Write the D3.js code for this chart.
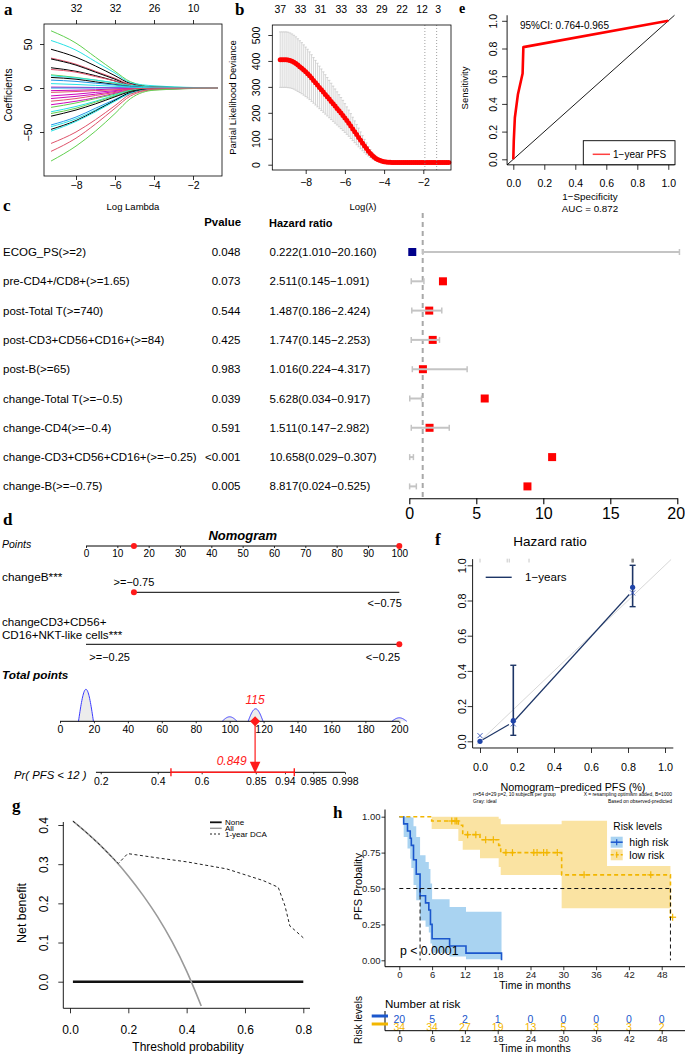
<!DOCTYPE html>
<html>
<head>
<meta charset="utf-8">
<script src="https://cdn.jsdelivr.net/npm/d3@7/dist/d3.min.js"></script>
<style>
html,body{margin:0;padding:0;background:#fff;}
svg{display:block;}
</style>
</head>
<body>
<svg id="chart" width="685" height="1054" xmlns="http://www.w3.org/2000/svg"></svg>
<script>
// ======================= DATA =======================
// (a) LASSO coefficient paths (value at each log-lambda knot)
const aLambda = [-9.28, -8, -7, -6, -5.2, -4, -0.72];
const aCoefPaths = [
  [65, 51, 35, 19, 7, 1.5, 0],
  [54, 43, 30, 17, 6, 2.5, 0],
  [44, 35, 25, 14, 5, 1, 0],
  [34, 27, 19, 11, 4, 0.8, 0],
  [33, 26, 18, 10, 3, 0.6, 0],
  [23, 19, 14, 8, 2.5, 0.5, 0],
  [21, 18, 13, 8, 3, 0.6, 0],
  [15, 12, 9, 5.5, 2, 0.4, 0],
  [14, 11.5, 9, 6, 3, 1, 0],
  [12, 10, 7, 4, 1.5, 0.3, 0],
  [9, 7.5, 5.5, 3.5, 1.5, 0.4, 0],
  [1, 0.8, 0.6, 0.4, 0.2, 0, 0],
  [0, 0, 0, 0, 0, 0, 0],
  [-3, -2.5, -2, -1, -0.5, 0, 0],
  [-9, -7, -5, -3, -1, -0.2, 0],
  [-12, -9.5, -7, -4, -1.5, -0.3, 0],
  [-15, -12, -8.5, -5, -2, -0.4, 0],
  [-19, -15, -11, -6, -2.5, -0.5, 0],
  [-22, -17, -12, -7, -2.5, -0.5, 0],
  [-27, -21, -15, -8, -3, -0.6, 0],
  [-29, -23, -16, -9, -3.5, -0.7, 0],
  [-32, -25, -18, -10, -4, -0.8, 0],
  [-42, -33, -23, -13, -5, -1, 0],
  [-44, -35, -25, -14, -6, -1.5, 0],
  [-47, -37, -26, -14, -5, -1, 0],
  [-49, -38, -27, -15, -6, -1.5, 0],
  [-63, -50, -36, -20, -7, -1.5, 0],
  [-72, -57, -41, -23, -9, -2, 0],
  [-83, -66, -49, -29, -12, -2.5, 0],
  [5, 4, 3, 2, 1, 0.3, 0],
  [-5, -4, -3, -2, -1, -0.3, 0]
];
const aPathColors = ["#61D04F","#28E2E5","#000000","#DF536B","#000000","#000000","#DF536B","#61D04F","#28E2E5","#000000","#2297E6","#CD0BBC","#2297E6","#CD0BBC","#CD0BBC","#CD0BBC","#DF536B","#CD0BBC","#61D04F","#28E2E5","#61D04F","#000000","#2297E6","#28E2E5","#000000","#28E2E5","#DF536B","#DF536B","#61D04F","#28E2E5","#DF536B"];
const aXTicks = [-8, -6, -4, -2];
const aYTicks = [-50, 0, 50];
const aTopLabels = ["32", "32", "26", "10"];

// (b) cross-validated partial likelihood deviance
const bLambda = [-9.3,-9.2,-9.1,-9.0,-8.9,-8.8,-8.7,-8.6,-8.5,-8.4,-8.3,-8.2,-8.1,-8.0,-7.9,-7.8,-7.7,-7.6,-7.5,-7.4,-7.3,-7.2,-7.1,-7.0,-6.9,-6.8,-6.7,-6.6,-6.5,-6.4,-6.3,-6.2,-6.1,-6.0,-5.9,-5.8,-5.7,-5.6,-5.5,-5.4,-5.3,-5.2,-5.1,-5.0,-4.9,-4.8,-4.7,-4.6,-4.5,-4.4,-4.3,-4.2,-4.1,-4.0,-3.9,-3.8,-3.7,-3.6,-3.5,-3.4,-3.3,-3.2,-3.1,-3.0,-2.9,-2.8,-2.7,-2.6,-2.5,-2.4,-2.3,-2.2,-2.1,-2.0,-1.9,-1.8,-1.7,-1.6,-1.5,-1.4,-1.3,-1.2,-1.1,-1.0,-0.9,-0.8,-0.7];
const bDeviance = [405,405,405,405,404,402,399,395,390,384,378,372,365,358,351,343,334,325,316,307,298,289,280,271,262,253,244,235,226,217,208,199,190,180,170,160,149,138,127,116,105,94,83,72,62,52,43,35,29,23,19,16,13,11.5,10,9.5,9,8.7,8.5,8,8,8,8,8,8,8,8,8,8,8,8,8,8,8,8,8,8,8,8,8,8,8,8,8,8,8,8];
const bDevSE = [107,107,107,107,107,106,105,104,103,101.5,100,98.5,97,95.5,94,92,90,88,86,84,82,80,78,76,74,72,70,68,66,64,62,60,58,55.5,53,50.5,48,45,42,39,36,32.5,29,25.5,22,18.5,15,12.5,10,8,6,5,4,3.5,3,2.8,2.6,2.5,2.5,2.5,2.5,2.5,2.5,2.5,2.5,2.5,2.5,2.5,2.5,2.5,2.5,2.5,2.5,2.5,2.5,2.5,2.5,2.5,2.5,2.5,2.5,2.5,2.5,2.5,2.5,2.5,2.5];
const bXTicks = [-8, -6, -4, -2];
const bYTicks = [0, 100, 200, 300, 400, 500];
const bTopLambda = [-9.32, -8.29, -7.27, -6.21, -5.18, -4.14, -3.11, -2.09, -1.27];
const bTopLabels = ["37", "33", "31", "33", "33", "29", "22", "12", "3"];
const bVLines = [-1.92, -1.32];

// (e) ROC curve
const eFPR = [0, 0.003, 0.01, 0.03, 0.06, 0.065, 1];
const eTPR = [0, 0.13, 0.30, 0.47, 0.62, 0.81, 1];
const eTicks = [0, 0.2, 0.4, 0.6, 0.8, 1.0];

// (c) forest plot
const cVars = ["ECOG_PS(>=2)", "pre-CD4+/CD8+(>=1.65)", "post-Total T(>=740)", "post-CD3+CD56+CD16+(>=84)", "post-B(>=65)", "change-Total T(>=\u22120.5)", "change-CD4(>=\u22120.4)", "change-CD3+CD56+CD16+(>=\u22120.25)", "change-B(>=\u22120.75)"];
const cPvalues = ["0.048", "0.073", "0.544", "0.425", "0.983", "0.039", "0.591", "<0.001", "0.005"];
const cHR = [0.222, 2.511, 1.487, 1.747, 1.016, 5.628, 1.511, 10.658, 8.817];
const cLo = [1.010, 0.145, 0.186, 0.145, 0.224, 0.034, 0.147, 0.029, 0.024];
const cHi = [20.160, 1.091, 2.424, 2.253, 4.317, 0.917, 2.982, 0.307, 0.525];
const cTicks = [0, 5, 10, 15, 20];

// (d) nomogram
const dPointsTicks = [0, 10, 20, 30, 40, 50, 60, 70, 80, 90, 100];
const dChangeBPoints = [15.3, 100];
const dChangeBLabels = [">=\u22120.75", "<\u22120.75"];
const dCD3Points = [0, 100];
const dCD3Labels = [">=\u22120.25", "<\u22120.25"];
const dTotalTicks = [0, 20, 40, 60, 80, 100, 120, 140, 160, 180, 200];
const dTotalGroups = [15.3, 100, 115.3, 200];
const dTotalCounts = [32, 4.5, 12.5, 3.5];
const dTotalSelected = 115;
const dPrLabels = ["0.2", "0.4", "0.6", "0.85", "0.94", "0.985", "0.998"];
const dPrAtTotal = [24.0, 57.6, 83.5, 115.4, 132.6, 149.3, 168.0];
const dPrRange = [21.2, 168.0];
const dPrCI = [65.4, 138.1];
const dPrSelected = "0.849";

// (f) calibration
const fPred = [0.0, 0.18, 0.825];
const fObs = [0.0, 0.117, 0.875];
const fObsLo = [null, 0.034, 0.765];
const fObsHi = [null, 0.432, 1.0];
const fCorrected = [0.032, 0.099, 0.843];
const fLineObs = [0.0, 0.11, 0.855];
const fRug = [0.0, 0.147, 0.158, 0.265, 0.822, 0.828];
const fRugDark = [false, false, false, false, true, true];
const fTicks = [0, 0.2, 0.4, 0.6, 0.8, 1.0];

// (g) decision curve
const gAllT = [0.01,0.05,0.1,0.15,0.2,0.25,0.3,0.35,0.4,0.45];
const gAllNB = [0.41,0.385,0.351,0.313,0.270,0.221,0.166,0.102,0.027,-0.062];
const gDcaT = [0.01,0.05,0.1,0.15,0.166,0.198,0.31,0.4,0.537,0.663,0.714,0.737,0.754,0.77,0.794,0.8];
const gDcaNB = [0.41,0.385,0.351,0.313,0.302,0.327,0.315,0.306,0.288,0.258,0.241,0.194,0.142,0.132,0.116,0.112];
const gNoneT = [0.01, 0.8];
const gXTicks = [0, 0.2, 0.4, 0.6, 0.8];
const gYTicks = [0, 0.1, 0.2, 0.3, 0.4];

// (h) Kaplan-Meier
const hHighTime  = [0, 0.8, 1.5, 2.0, 2.2, 2.6, 3.1, 3.8, 4.8, 5.4, 5.7, 6.0, 9.2, 12.2, 18.7];
const hHighSurv  = [1, 0.95, 0.90, 0.85, 0.80, 0.70, 0.60, 0.45, 0.40, 0.35, 0.25, 0.15, 0.10, 0.05, 0];
const hHighLower = [1, 0.859, 0.778, 0.707, 0.643, 0.525, 0.419, 0.277, 0.234, 0.193, 0.117, 0.053, 0.027, 0.0074, 0];
const hHighUpper = [1, 1, 1, 1, 0.995, 0.933, 0.859, 0.731, 0.684, 0.636, 0.534, 0.426, 0.372, 0.338, 0];
const hLowTime  = [0, 5.92, 10.8, 11.6, 14.76, 18.18, 18.55, 29.7, 38, 49.6];
const hLowSurv  = [1, 0.97, 0.94, 0.875, 0.84, 0.80, 0.75, 0.595, 0.595, 0.30];
const hLowLower = [1, 0.914, 0.83, 0.77, 0.71, 0.65, 0.594, 0.362, 0.362, 0.30];
const hLowUpper = [1, 1, 1, 1, 1, 0.985, 0.947, 0.972, 0.657, 0.30];
const hLowEnd = 50.0;
const hLowCensor = [9.6, 10.2, 10.5, 12.5, 14.0, 15.8, 17.2, 19.5, 20.7, 24.6, 25.2, 26.4, 27.0, 28.9, 33.8, 46.0, 50.0];
const hMedians = [3.8, 49.6];
const hXTicks = [0, 6, 12, 18, 24, 30, 36, 42, 48];
const hYTicks = [0, 0.25, 0.5, 0.75, 1.0];
const hRiskHigh = [20, 5, 2, 1, 0, 0, 0, 0, 0];
const hRiskLow = [34, 34, 27, 19, 13, 5, 3, 3, 2];

// ======================= HELPERS =======================
const SANS = '"Liberation Sans", Arial, Helvetica, sans-serif';
const SERIF = '"Liberation Serif", "Times New Roman", Times, serif';
const svg = d3.select("#chart");
svg.append("rect").attr("width", 685).attr("height", 1054).attr("fill", "#fff");

function T(x, y, s, o = {}) {
  const t = svg.append("text").attr("x", x).attr("y", y).text(s)
    .attr("font-size", o.size || 10.5).attr("fill", o.fill || "#000")
    .attr("text-anchor", o.anchor || "start").attr("font-family", o.family || SANS);
  if (o.weight) t.attr("font-weight", o.weight);
  if (o.style) t.attr("font-style", o.style);
  if (o.rot) t.attr("transform", `rotate(-90,${x},${y})`);
  return t;
}
function L(x1, y1, x2, y2, o = {}) {
  const l = svg.append("line").attr("x1", x1).attr("y1", y1).attr("x2", x2).attr("y2", y2)
    .attr("stroke", o.stroke || "#000").attr("stroke-width", o.w || 1);
  if (o.dash) l.attr("stroke-dasharray", o.dash);
  return l;
}
function RT(cx, cy, s, o = {}) {
  const sz = o.size || 10.5;
  return T(cx + sz * 0.36, cy, s, Object.assign({ anchor: "middle", rot: true }, o));
}
function axis(kind, scale, vals, tx, ty, o = {}) {
  const gen = kind === "bottom" ? d3.axisBottom : kind === "top" ? d3.axisTop : d3.axisLeft;
  const ax = gen(scale).tickValues(vals).tickSize(o.tick ?? 5).tickSizeOuter(0).tickPadding(o.pad ?? 3);
  if (o.fmt) ax.tickFormat(o.fmt);
  const g = svg.append("g").attr("transform", `translate(${tx},${ty})`).call(ax);
  if (!o.domain) g.select(".domain").remove();
  else g.select(".domain").attr("stroke", "#000").attr("stroke-width", o.dw || 1);
  g.selectAll(".tick line").attr("stroke", o.tc || "#000").attr("stroke-width", o.tw || 0.8);
  g.selectAll("text").attr("font-size", o.size || 10.5).attr("font-family", SANS).attr("fill", o.fill || "#000");
  if (kind === "left" && o.rot !== undefined) {
    g.selectAll("text").attr("transform", "rotate(-90)").attr("x", 0).attr("y", -o.rot)
      .attr("dy", 0).attr("text-anchor", "middle");
  }
  return g;
}
function panelLabel(x, y, s, sz) { T(x, y, s, { size: sz || 17, weight: "bold", family: SERIF }); }

// ======================= (a) =======================
{
  const x = d3.scaleLinear().domain([-8, -2]).range([76, 193]);
  const y = d3.scaleLinear().domain([-50, 50]).range([132, 44]);
  const line = d3.line().x((d, i) => x(aLambda[i])).y(d => y(d)).curve(d3.curveMonotoneX);
  svg.append("g").selectAll("path").data(aCoefPaths).join("path")
    .attr("d", line).attr("fill", "none").attr("stroke", (d, i) => aPathColors[i]).attr("stroke-width", 1);
  svg.append("rect").attr("x", 44).attr("y", 24).attr("width", 178).attr("height", 152)
    .attr("fill", "none").attr("stroke", "#000").attr("stroke-width", 0.8);
  axis("bottom", x, aXTicks, 0, 176, { tick: 4, pad: 1.3, fmt: d => String(d).replace("-", "\u2212") });
  axis("top", x, aXTicks, 0, 24, { tick: 4, pad: 8.3, fmt: (d, i) => aTopLabels[i] });
  axis("left", y, aYTicks, 44, 0, { tick: 4, rot: 12, fmt: d => String(d).replace("-", "\u2212") });
  RT(8, 95, "Coefficients", { size: 10.2 });
  T(133, 210, "Log Lambda", { size: 9.5, anchor: "middle" });
  panelLabel(4, 15, "a");
}

// ======================= (b) =======================
{
  const x = d3.scaleLinear().domain([-8, -2]).range([305.7, 423.3]);
  const y = d3.scaleLinear().domain([0, 500]).range([164.7, 35]);
  const g = svg.append("g");
  const pts = bLambda.map((l, i) => ({ l, m: bDeviance[i], s: bDevSE[i] }));
  const GR = "#c4c4c4";
  g.selectAll(".eb").data(pts).join("line").attr("class", "eb")
    .attr("x1", d => x(d.l)).attr("x2", d => x(d.l))
    .attr("y1", d => y(d.m + d.s)).attr("y2", d => y(d.m - d.s))
    .attr("stroke", GR).attr("stroke-width", 0.7);
  g.selectAll(".cu").data(pts).join("line").attr("class", "cu")
    .attr("x1", d => x(d.l) - 1.2).attr("x2", d => x(d.l) + 1.2)
    .attr("y1", d => y(d.m + d.s)).attr("y2", d => y(d.m + d.s))
    .attr("stroke", GR).attr("stroke-width", 0.7);
  g.selectAll(".cl").data(pts).join("line").attr("class", "cl")
    .attr("x1", d => x(d.l) - 1.2).attr("x2", d => x(d.l) + 1.2)
    .attr("y1", d => y(d.m - d.s)).attr("y2", d => y(d.m - d.s))
    .attr("stroke", GR).attr("stroke-width", 0.7);
  bVLines.forEach(v => L(x(v), 25, x(v), 170, { stroke: "#888", w: 0.8, dash: "1,2" }));
  g.selectAll("circle").data(pts).join("circle")
    .attr("cx", d => x(d.l)).attr("cy", d => y(d.m)).attr("r", 2.5).attr("fill", "#ff0000");
  svg.append("rect").attr("x", 272.3).attr("y", 25).attr("width", 178.7).attr("height", 145)
    .attr("fill", "none").attr("stroke", "#000").attr("stroke-width", 0.8);
  axis("bottom", x, bXTicks, 0, 170, { tick: 4, pad: 5, fmt: d => String(d).replace("-", "\u2212") });
  axis("top", x, bTopLambda, 0, 25, { tick: 0, pad: 12.5, fmt: (d, i) => bTopLabels[i] });
  axis("left", y, bYTicks, 272.3, 0, { tick: 4, rot: 12 });
  RT(232.7, 97.5, "Partial Likelihood Deviance", { size: 9.5 });
  T(363, 210, "Log(\u03bb)", { size: 9.5, anchor: "middle" });
  panelLabel(235, 15, "b");
}

// ======================= (e) =======================
{
  const x = d3.scaleLinear().domain([0, 1]).range([513.3, 668.3]);
  const y = d3.scaleLinear().domain([0, 1]).range([159.3, 20.8]);
  svg.append("path").attr("d", `M${x(-0.04)},${y(1.04)}V${y(-0.04)}H${x(1.04)}`)
    .attr("fill", "none").attr("stroke", "#000").attr("stroke-width", 0.9);
  L(x(-0.04), y(-0.04), x(1.04), y(1.04), { w: 0.9 });
  const line = d3.line().x((d, i) => x(eFPR[i])).y(d => y(d));
  svg.append("path").attr("d", line(eTPR)).attr("fill", "none").attr("stroke", "#ff0000")
    .attr("stroke-width", 2.6).attr("stroke-linejoin", "round");
  axis("bottom", x, eTicks, 0, y(-0.04), { tick: 5, pad: 9.6, fmt: d3.format(".1f") });
  axis("left", y, eTicks, x(-0.04), 0, { tick: 5, rot: 10, fmt: d3.format(".1f") });
  T(520, 29, "95%CI: 0.764-0.965", { size: 10 });
  svg.append("rect").attr("x", 583.3).attr("y", 140.7).attr("width", 91.7).attr("height", 24)
    .attr("fill", "#fff").attr("stroke", "#000").attr("stroke-width", 0.9);
  L(592.7, 154.3, 610, 154.3, { stroke: "#ff4040", w: 1.5 });
  T(613, 158, "1\u2212year PFS", { size: 10 });
  RT(465, 88, "Sensitivity", { size: 9.5 });
  T(590, 199.8, "1\u2212Specificity", { size: 9.8, anchor: "middle" });
  T(590, 211.8, "AUC =  0.872", { size: 9.8, anchor: "middle" });
  panelLabel(459, 13, "e", 14);
}

// ======================= (c) =======================
{
  const x = d3.scaleLinear().domain([0, 20]).range([409.3, 677.3]);
  const y = d3.scalePoint().domain(cVars).range([252, 486.4]);
  T(241, 226, "Pvalue", { size: 11.4, weight: "bold", anchor: "end" });
  T(269, 227, "Hazard ratio", { size: 11, weight: "bold" });
  cVars.forEach((v, i) => {
    const yy = y(v);
    T(3, yy + 4, v, { size: 11.5 });
    T(240.5, yy + 4, cPvalues[i], { size: 11.5, anchor: "end" });
    T(269.5, yy + 4, `${cHR[i].toFixed(3)}(${cLo[i].toFixed(3)}\u2212${cHi[i].toFixed(3)})`, { size: 11.5 });
  });
  L(x(1), 213, x(1), 498, { stroke: "#a8a8a8", w: 2, dash: "5,4" });
  const g = svg.append("g");
  cVars.forEach((v, i) => {
    const yy = y(v);
    L(x(cLo[i]), yy, x(cHi[i]), yy, { stroke: "#c4c4c4", w: 2 });
    L(x(cLo[i]), yy - 3, x(cLo[i]), yy + 3, { stroke: "#c4c4c4", w: 1.5 });
    L(x(cHi[i]), yy - 3, x(cHi[i]), yy + 3, { stroke: "#c4c4c4", w: 1.5 });
  });
  g.selectAll("rect").data(cVars).join("rect")
    .attr("x", (d, i) => x(cHR[i]) - 4).attr("y", d => y(d) - 4)
    .attr("width", 8).attr("height", 8)
    .attr("fill", (d, i) => i === 0 ? "#00008b" : "#ff0000");
  const ax = axis("bottom", x, cTicks, 0, 498.3, { tick: 6, pad: 3, size: 16, domain: true, dw: 1.1, tw: 1.1 });
  ax.selectAll(".tick text").filter(d => d === 20).attr("text-anchor", "end").attr("x", 7.3);
  panelLabel(3, 211, "c");
}

// ======================= (d) =======================
{
  const xP = d3.scaleLinear().domain([0, 100]).range([86, 399.3]);
  const xT = d3.scaleLinear().domain([0, 200]).range([60, 399.3]);
  const RED = "#ff1a1a";
  panelLabel(3, 525, "d");
  T(242.7, 539.5, "Nomogram", { size: 13, weight: "bold", style: "italic", anchor: "middle" });
  T(2, 548, "Points", { size: 10.5, style: "italic" });
  L(xP(0), 546, xP(100), 546, { w: 1 });
  axis("bottom", xP, dPointsTicks, 0, 546, { tick: 2, pad: 2, size: 10 });
  dChangeBPoints.forEach(p => svg.append("circle").attr("cx", xP(p)).attr("cy", 546).attr("r", 3).attr("fill", RED));

  T(2, 580.7, "changeB***", { size: 11.8 });
  L(xP(dChangeBPoints[0]), 592.3, xP(dChangeBPoints[1]), 592.3, { w: 1 });
  svg.append("circle").attr("cx", xP(dChangeBPoints[0])).attr("cy", 592.3).attr("r", 3).attr("fill", RED);
  T(xP(dChangeBPoints[0]), 585.7, dChangeBLabels[0], { size: 11, anchor: "middle" });
  T(xP(dChangeBPoints[1]) + 2.5, 607.3, dChangeBLabels[1], { size: 11, anchor: "end" });

  T(2, 625.7, "changeCD3+CD56+", { size: 11.6 });
  T(2, 639, "CD16+NKT-like cells***", { size: 11.6 });
  L(xP(dCD3Points[0]), 644.3, xP(dCD3Points[1]), 644.3, { w: 1 });
  svg.append("circle").attr("cx", xP(dCD3Points[1])).attr("cy", 644.3).attr("r", 3).attr("fill", RED);
  T(xP(dCD3Points[0]) + 3.3, 660.7, dCD3Labels[0], { size: 11 });
  T(xP(dCD3Points[1]) + 0.8, 660.7, dCD3Labels[1], { size: 11, anchor: "end" });

  T(2, 679, "Total points", { size: 11.8, weight: "bold", style: "italic" });
  const base = 721.3;
  dTotalGroups.forEach((c, i) => {
    const w = 4.4, h = dTotalCounts[i];
    const us = d3.range(-1, 1.0001, 0.05);
    const pts = us.map(u => [xT(c + u * w), base - h * Math.cos(u * Math.PI / 2)]);
    svg.append("path").attr("d", d3.line()(pts) + "Z").attr("fill", "#ececec").attr("stroke", "none");
    svg.append("path").attr("d", d3.line()(pts)).attr("fill", "none").attr("stroke", "#3a3aff").attr("stroke-width", 1);
  });
  L(xT(0), base, xT(200), base, { w: 1 });
  axis("bottom", xT, dTotalTicks, 0, base, { tick: 2, pad: 2, size: 10.5 });
  const sx = xT(dTotalSelected);
  L(sx, base, sx, 762, { stroke: RED, w: 1.2 });
  svg.append("path").attr("d", `M${sx - 5.3},761.7L${sx + 5.3},761.7L${sx},773.3Z`).attr("fill", RED);
  svg.append("path").attr("d", `M${sx},${base - 5}L${sx + 5},${base}L${sx},${base + 5}L${sx - 5},${base}Z`).attr("fill", RED);
  T(sx, 704.3, String(dTotalSelected), { size: 12, fill: RED, style: "italic", anchor: "middle" });

  const py = 772.3;
  L(xT(dPrRange[0]), py, xT(dPrRange[1]), py, { w: 1 });
  axis("bottom", xT, dPrAtTotal, 0, py, { tick: 2, pad: 2.8, size: 10.5, fmt: (d, i) => dPrLabels[i] });
  L(xT(dPrCI[0]), py, xT(dPrCI[1]), py, { stroke: RED, w: 1.6 });
  dPrCI.forEach(v => L(xT(v), py - 4, xT(v), py + 4, { stroke: RED, w: 1.4 }));
  T(231.7, 765.3, dPrSelected, { size: 12, fill: RED, style: "italic", anchor: "middle" });
  T(14, 779, "Pr( PFS < 12 )", { size: 11.3, style: "italic" });
}

// ======================= (f) =======================
{
  const x = d3.scaleLinear().domain([0, 1]).range([480, 665]);
  const y = d3.scaleLinear().domain([0, 1]).range([741.3, 565.3]);
  const NAVY = "#1d3566", DOT = "#1f44a8";
  T(435, 545, "f", { size: 17, weight: "bold", family: SERIF });
  T(550, 545.5, "Hazard ratio", { size: 13.5, anchor: "middle" });
  svg.append("path").attr("d", `M${x(-0.04)},${y(1.035)}V${y(-0.038)}H${x(1.045)}`)
    .attr("fill", "none").attr("stroke", "#000").attr("stroke-width", 0.9);
  L(x(-0.02), y(-0.02), x(1.033), y(1.033), { stroke: "#d2d2d2", w: 0.9 });
  fRug.forEach((r, i) => L(x(r), 558.7, x(r), 562.5, { stroke: fRugDark[i] ? "#555" : "#c8c8c8", w: 1 }));
  for (let i = 0; i < fPred.length - 1; i++) {
    const x1 = x(fPred[i]), y1 = y(fLineObs[i]), x2 = x(fPred[i + 1]), y2 = y(fLineObs[i + 1]);
    const len = Math.hypot(x2 - x1, y2 - y1), g1 = 3, g2 = 5;
    L(x1 + (x2 - x1) * g1 / len, y1 + (y2 - y1) * g1 / len, x2 - (x2 - x1) * g2 / len, y2 - (y2 - y1) * g2 / len, { stroke: NAVY, w: 1.2 });
  }
  fPred.forEach((p, i) => {
    if (fObsLo[i] !== null) {
      L(x(p), y(fObsLo[i]), x(p), y(fObsHi[i]), { stroke: NAVY, w: 1.6 });
      L(x(p) - 3, y(fObsLo[i]), x(p) + 3, y(fObsLo[i]), { stroke: NAVY, w: 1.4 });
      L(x(p) - 3, y(fObsHi[i]), x(p) + 3, y(fObsHi[i]), { stroke: NAVY, w: 1.4 });
    }
    const cx = x(p), cy = y(fCorrected[i]);
    L(cx - 2.5, cy - 2.5, cx + 2.5, cy + 2.5, { stroke: "#2a4bb5", w: 0.9 });
    L(cx - 2.5, cy + 2.5, cx + 2.5, cy - 2.5, { stroke: "#2a4bb5", w: 0.9 });
    svg.append("circle").attr("cx", cx).attr("cy", y(fObs[i])).attr("r", 2.6).attr("fill", DOT);
  });
  L(485.7, 577.3, 511.7, 577.3, { stroke: NAVY, w: 1.4 });
  T(525, 581.3, "1\u2212years", { size: 11.6 });
  axis("bottom", x, fTicks, 0, y(-0.038), { tick: 5, pad: 10, size: 10.8, fmt: d3.format(".1f") });
  axis("left", y, fTicks, x(-0.04), 0, { tick: 5, rot: 6.5, size: 10.8, fmt: d3.format(".1f") });
  T(573, 790.5, "Nomogram\u2212prediced PFS (%)", { size: 10.8, anchor: "middle" });
  T(473, 796.3, "n=54 d=29 p=2, 10 subjects per group", { size: 4.9 });
  T(672, 796.3, "X = resampling optimism added, B=1000", { size: 4.9, anchor: "end" });
  T(473, 802.6, "Gray: ideal", { size: 4.9 });
  T(672, 802.6, "Based on observed-predicted", { size: 4.9, anchor: "end" });
}

// ======================= (g) =======================
{
  const x = d3.scaleLinear().domain([0, 0.8]).range([70, 303.3]);
  const y = d3.scaleLinear().domain([0, 0.4]).range([981.7, 825]);
  panelLabel(12, 811, "g");
  const bottom = 1008.3;
  svg.append("defs").append("clipPath").attr("id", "gclip").append("rect")
    .attr("x", 63.3).attr("y", 812).attr("width", 250).attr("height", bottom - 812);
  const line = d3.line().x(d => x(d[0])).y(d => y(d[1])).curve(d3.curveMonotoneX);
  L(x(gNoneT[0]), y(0), x(gNoneT[1]), y(0), { stroke: "#111", w: 2.4 });
  svg.append("path").attr("clip-path", "url(#gclip)").attr("d", line(gAllT.map((t, i) => [t, gAllNB[i]])))
    .attr("fill", "none").attr("stroke", "#9a9a9a").attr("stroke-width", 1.6);
  svg.append("path").attr("d", d3.line().x(d => x(d[0])).y(d => y(d[1]))(gDcaT.map((t, i) => [t, gDcaNB[i]])))
    .attr("fill", "none").attr("stroke", "#222").attr("stroke-width", 1).attr("stroke-dasharray", "3,2.5");
  svg.append("path").attr("d", `M63.3,822V${bottom}H310`).attr("fill", "none").attr("stroke", "#000").attr("stroke-width", 0.9);
  axis("bottom", x, gXTicks, 0, bottom, { tick: 5, pad: 12.2, size: 12, fmt: d3.format(".1f") });
  axis("left", y, gYTicks, 63.3, 0, { tick: 5, rot: 15.6, size: 12, fmt: d3.format(".1f") });
  RT(21.7, 913, "Net benefit", { size: 12.4 });
  T(188, 1050.5, "Threshold probability", { size: 12, anchor: "middle" });
  L(210, 822.3, 221.7, 822.3, { stroke: "#111", w: 1.8 });
  L(210, 828.3, 221.7, 828.3, { stroke: "#9a9a9a", w: 1.4 });
  L(210, 834, 221.7, 834, { stroke: "#222", w: 1, dash: "2,2" });
  T(225, 825.2, "None", { size: 8 });
  T(225, 831, "All", { size: 8 });
  T(225, 837, "1-year DCA", { size: 8 });
}

// ======================= (h) =======================
{
  const x = d3.scaleLinear().domain([0, 48]).range([399.3, 661.7]);
  const y = d3.scaleLinear().domain([0, 1]).range([960.3, 816.7]);
  const BLUE = "#1b57cc", BLUEBAND = "#a9d3f1", GOLD = "#f2b600", GOLDBAND = "#fae3a2";
  panelLabel(333, 818, "h");
  function ribbon(times, lo, up) {
    const n = times.length;
    const pts = times.slice(0, -1).map((t, i) => ({ t, lo: lo[i], up: up[i] }));
    pts.push({ t: times[n - 1], lo: lo[n - 2], up: up[n - 2] });
    return d3.area().curve(d3.curveStepAfter).x(d => x(d.t)).y0(d => y(d.lo)).y1(d => y(d.up))(pts);
  }
  svg.append("path").attr("d", ribbon(hLowTime, hLowLower, hLowUpper)).attr("fill", GOLDBAND);
  svg.append("path").attr("d", ribbon(hHighTime, hHighLower, hHighUpper)).attr("fill", BLUEBAND);
  const step = d3.line().curve(d3.curveStepAfter).x(d => x(d[0])).y(d => y(d[1]));
  svg.append("path").attr("d", step(hHighTime.map((t, i) => [t, hHighSurv[i]])))
    .attr("fill", "none").attr("stroke", BLUE).attr("stroke-width", 1.6);
  const lowPts = hLowTime.map((t, i) => [t, hLowSurv[i]]).concat([[hLowEnd, hLowSurv[hLowSurv.length - 1]]]);
  svg.append("path").attr("d", step(lowPts))
    .attr("fill", "none").attr("stroke", GOLD).attr("stroke-width", 1.6).attr("stroke-dasharray", "4,3");
  hLowCensor.forEach(t => {
    const s = hLowSurv[d3.bisectRight(hLowTime, t) - 1];
    L(x(t) - 3.5, y(s), x(t) + 3.5, y(s), { stroke: GOLD, w: 1.2 });
    L(x(t), y(s) - 3.5, x(t), y(s) + 3.5, { stroke: GOLD, w: 1.2 });
  });
  L(x(0), y(0.5), x(hMedians[1]), y(0.5), { stroke: "#111", w: 1, dash: "4,3" });
  hMedians.forEach(m => L(x(m), y(0.5), x(m), y(0), { stroke: "#111", w: 1, dash: "4,3" }));
  T(400, 954.5, "p < 0.0001", { size: 12.3 });
  L(385, 809.5, 385, 966.7, { w: 1 });
  L(385, 966.7, 685, 966.7, { w: 1 });
  axis("bottom", x, hXTicks, 0, 966.7, { tick: 3.5, pad: 1.5, size: 9.5, fill: "#222" });
  axis("left", y, hYTicks, 385, 0, { tick: 3.5, pad: 1, size: 9.5, fill: "#222", fmt: d3.format(".2f") });
  RT(358.3, 886.7, "PFS Probality", { size: 11 });
  T(535, 989, "Time in months", { size: 10.5, anchor: "middle" });
  T(613.3, 829.8, "Risk levels", { size: 10.2 });
  svg.append("rect").attr("x", 610.7).attr("y", 836.7).attr("width", 12).attr("height", 11).attr("fill", BLUEBAND);
  L(610.7, 842.2, 622.7, 842.2, { stroke: BLUE, w: 1.5 });
  L(616.7, 839.2, 616.7, 845.2, { stroke: BLUE, w: 1.2 });
  svg.append("rect").attr("x", 610.7).attr("y", 849.3).attr("width", 12).attr("height", 11).attr("fill", GOLDBAND);
  L(610.7, 854.8, 622.7, 854.8, { stroke: GOLD, w: 1.5, dash: "3,2" });
  L(616.7, 851.8, 616.7, 857.8, { stroke: GOLD, w: 1.2 });
  T(629.3, 846.3, "high risk", { size: 10.5 });
  T(629.3, 859, "low risk", { size: 10.5 });

  T(385, 1007.5, "Number at risk", { size: 11.6 });
  hXTicks.forEach((t, i) => {
    T(x(t), 1022.5, String(hRiskHigh[i]), { size: 10.5, anchor: "middle", fill: BLUE });
    T(x(t), 1031, String(hRiskLow[i]), { size: 10.5, anchor: "middle", fill: GOLD });
  });
  L(385, 1011, 385, 1030.7, { w: 1 });
  L(385, 1030.7, 685, 1030.7, { w: 1 });
  axis("bottom", x, hXTicks, 0, 1030.7, { tick: 3.5, pad: 1.5, size: 9.5, fill: "#222" });
  L(371.7, 1016, 388, 1016, { stroke: BLUE, w: 3 });
  L(371.7, 1024, 388, 1024, { stroke: GOLD, w: 3 });
  RT(358.3, 1020, "Risk levels", { size: 10 });
  T(535, 1052, "Time in months", { size: 10.5, anchor: "middle" });
}
</script>
</body>
</html>
